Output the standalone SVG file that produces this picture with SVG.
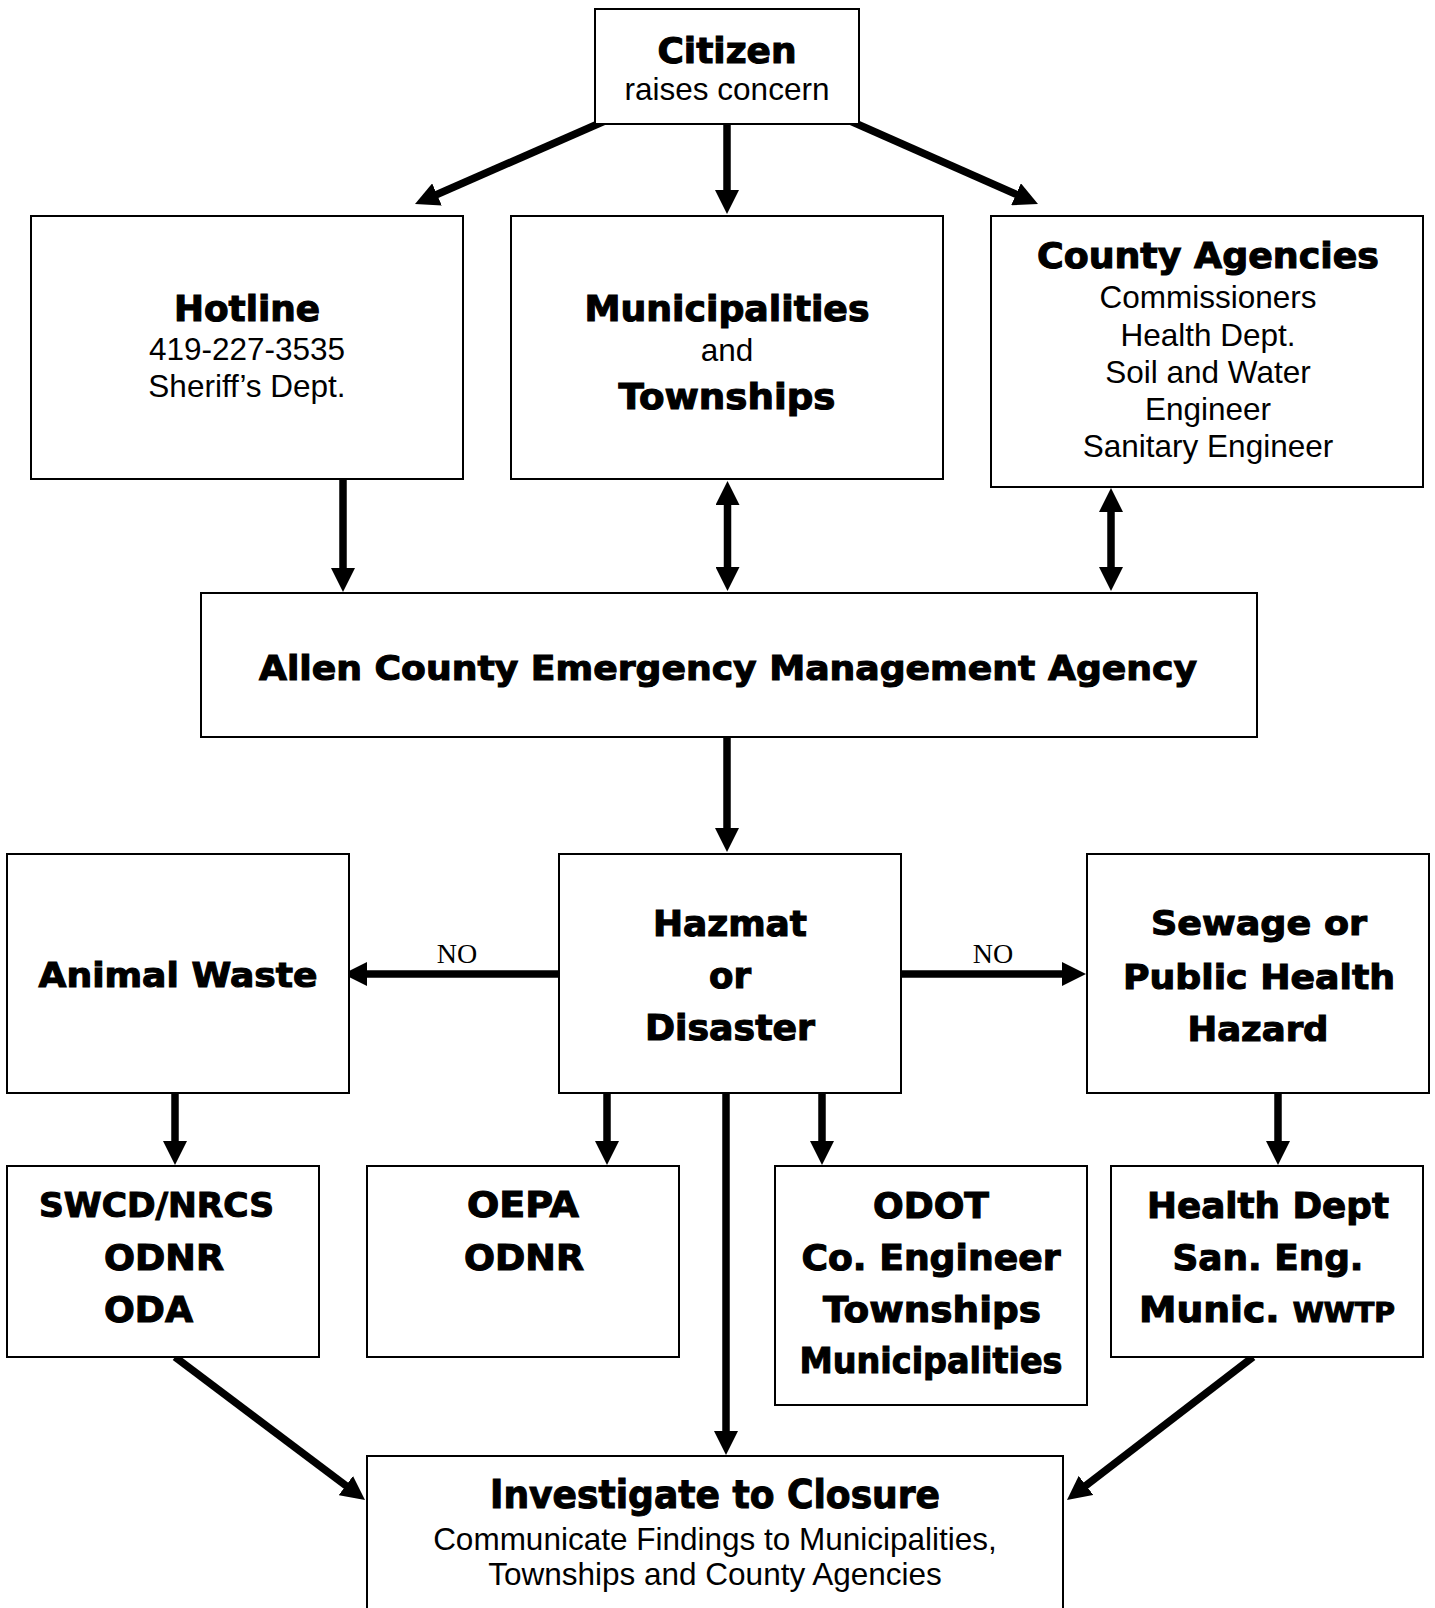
<svg xmlns="http://www.w3.org/2000/svg" width="1435" height="1608" viewBox="0 0 1435 1608">
<style>
.box{fill:#fff;stroke:#000;stroke-width:2}
.b{font-family:"DejaVu Sans","Liberation Sans",sans-serif;font-weight:bold;fill:#000;stroke:#000;stroke-width:1.1;text-anchor:middle}
.r{font-family:"Liberation Sans",Arial,sans-serif;font-size:31.5px;fill:#000;text-anchor:middle}
.no{font-family:"Liberation Serif","Times New Roman",serif;font-size:28px;fill:#000;text-anchor:middle}
.c{stroke:#000;stroke-width:7.5;fill:none;marker-end:url(#ah)}
.d{marker-start:url(#ah)}
</style>
<defs>
<marker id="ah" markerUnits="userSpaceOnUse" markerWidth="24" markerHeight="24" viewBox="0 0 24 24" refX="12" refY="12" orient="auto-start-reverse">
<path d="M0,0 L24,12 L0,24 Z" fill="#000"/>
</marker>
</defs>
<rect width="1435" height="1608" fill="#fff"/>

<g id="connectors">
<line class="c" x1="607" y1="120" x2="426" y2="199.2"/>
<line class="c" x1="727" y1="124" x2="727" y2="202"/>
<line class="c" x1="848" y1="120" x2="1027" y2="199.1"/>
<line class="c" x1="343" y1="479" x2="343" y2="580"/>
<line class="c d" x1="727.5" y1="493" x2="727.5" y2="579"/>
<line class="c d" x1="1111" y1="500" x2="1111" y2="579"/>
<line class="c" x1="727" y1="737" x2="727" y2="840"/>
<line class="c" x1="559" y1="974" x2="355" y2="974"/>
<line class="c" x1="901" y1="974" x2="1074" y2="974"/>
<line class="c" x1="175" y1="1093" x2="175" y2="1153"/>
<line class="c" x1="607" y1="1093" x2="607" y2="1153"/>
<line class="c" x1="822" y1="1093" x2="822" y2="1153"/>
<line class="c" x1="1278" y1="1093" x2="1278" y2="1153"/>
<line class="c" x1="726" y1="1093" x2="726" y2="1443"/>
<line class="c" x1="175" y1="1357" x2="355.4" y2="1492.8"/>
<line class="c" x1="1253" y1="1357" x2="1076.5" y2="1492.7"/>
<text class="no" x="457" y="963">NO</text>
<text class="no" x="993" y="963">NO</text>
</g>

<g id="citizen">
<rect class="box" x="595" y="9" width="264" height="115"/>
<text class="b" x="727" y="63" font-size="36" textLength="139" lengthAdjust="spacingAndGlyphs">Citizen</text>
<text class="r" x="727" y="100">raises concern</text>
</g>

<g id="hotline">
<rect class="box" x="31" y="216" width="432" height="263"/>
<text class="b" x="247" y="321" font-size="35" textLength="146" lengthAdjust="spacingAndGlyphs">Hotline</text>
<text class="r" x="247" y="360">419-227-3535</text>
<text class="r" x="247" y="397">Sheriff’s Dept.</text>
</g>

<g id="municipalities">
<rect class="box" x="511" y="216" width="432" height="263"/>
<text class="b" x="727" y="321" font-size="35" textLength="285" lengthAdjust="spacingAndGlyphs">Municipalities</text>
<text class="r" x="727" y="361">and</text>
<text class="b" x="727" y="409" font-size="35" textLength="217" lengthAdjust="spacingAndGlyphs">Townships</text>
</g>

<g id="county">
<rect class="box" x="991" y="216" width="432" height="271"/>
<text class="b" x="1208" y="268" font-size="36" textLength="342" lengthAdjust="spacingAndGlyphs">County Agencies</text>
<text class="r" x="1208" y="308">Commissioners</text>
<text class="r" x="1208" y="346">Health Dept.</text>
<text class="r" x="1208" y="383">Soil and Water</text>
<text class="r" x="1208" y="420">Engineer</text>
<text class="r" x="1208" y="457">Sanitary Engineer</text>
</g>

<g id="ema">
<rect class="box" x="201" y="593" width="1056" height="144"/>
<text class="b" x="728" y="680" font-size="34" textLength="938" lengthAdjust="spacingAndGlyphs">Allen County Emergency Management Agency</text>
</g>

<g id="animal">
<rect class="box" x="7" y="854" width="342" height="239"/>
<text class="b" x="178" y="987" font-size="34" textLength="279" lengthAdjust="spacingAndGlyphs">Animal Waste</text>
</g>

<g id="hazmat">
<rect class="box" x="559" y="854" width="342" height="239"/>
<text class="b" x="730" y="936" font-size="35" textLength="154" lengthAdjust="spacingAndGlyphs">Hazmat</text>
<text class="b" x="730" y="988" font-size="35" textLength="42" lengthAdjust="spacingAndGlyphs">or</text>
<text class="b" x="730" y="1040" font-size="35" textLength="170" lengthAdjust="spacingAndGlyphs">Disaster</text>
</g>

<g id="sewage">
<rect class="box" x="1087" y="854" width="342" height="239"/>
<text class="b" x="1259" y="935" font-size="34" textLength="216" lengthAdjust="spacingAndGlyphs">Sewage or</text>
<text class="b" x="1259" y="989" font-size="34" textLength="272" lengthAdjust="spacingAndGlyphs">Public Health</text>
<text class="b" x="1258" y="1041" font-size="34" textLength="141" lengthAdjust="spacingAndGlyphs">Hazard</text>
</g>

<g id="swcd">
<rect class="box" x="7" y="1166" width="312" height="191"/>
<text class="b" x="39" y="1217" font-size="34" style="text-anchor:start" textLength="235" lengthAdjust="spacingAndGlyphs">SWCD/NRCS</text>
<text class="b" x="104" y="1270" font-size="35" style="text-anchor:start" textLength="120" lengthAdjust="spacingAndGlyphs">ODNR</text>
<text class="b" x="104" y="1322" font-size="35" style="text-anchor:start" textLength="89" lengthAdjust="spacingAndGlyphs">ODA</text>
</g>

<g id="oepa">
<rect class="box" x="367" y="1166" width="312" height="191"/>
<text class="b" x="523" y="1217" font-size="35" textLength="112" lengthAdjust="spacingAndGlyphs">OEPA</text>
<text class="b" x="524" y="1270" font-size="35" textLength="120" lengthAdjust="spacingAndGlyphs">ODNR</text>
</g>

<g id="odot">
<rect class="box" x="775" y="1166" width="312" height="239"/>
<text class="b" x="931" y="1218" font-size="36" textLength="116" lengthAdjust="spacingAndGlyphs">ODOT</text>
<text class="b" x="931" y="1270" font-size="36" textLength="259" lengthAdjust="spacingAndGlyphs">Co. Engineer</text>
<text class="b" x="932" y="1322" font-size="36" textLength="218" lengthAdjust="spacingAndGlyphs">Townships</text>
<text class="b" x="931" y="1373" font-size="36" textLength="263" lengthAdjust="spacingAndGlyphs">Municipalities</text>
</g>

<g id="health">
<rect class="box" x="1111" y="1166" width="312" height="191"/>
<text class="b" x="1268" y="1218" font-size="36" textLength="242" lengthAdjust="spacingAndGlyphs">Health Dept</text>
<text class="b" x="1268" y="1270" font-size="36" textLength="191" lengthAdjust="spacingAndGlyphs">San. Eng.</text>
<text class="b" x="1267" y="1322" font-size="36" textLength="256" lengthAdjust="spacingAndGlyphs">Munic. <tspan font-size="27">WWTP</tspan></text>
</g>

<g id="investigate">
<rect class="box" x="367" y="1456" width="696" height="170"/>
<text class="b" x="715" y="1508" font-size="39" textLength="450" lengthAdjust="spacingAndGlyphs">Investigate to Closure</text>
<text class="r" x="715" y="1550">Communicate Findings to Municipalities,</text>
<text class="r" x="715" y="1585">Townships and County Agencies</text>
</g>
</svg>
